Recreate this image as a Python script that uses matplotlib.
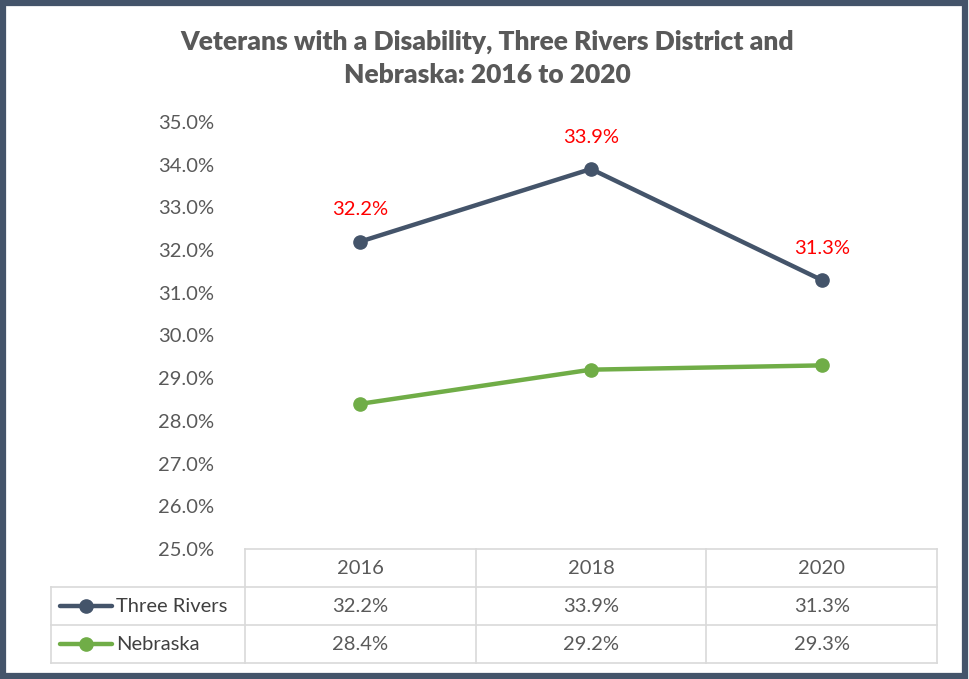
import matplotlib.pyplot as plt
from matplotlib.lines import Line2D
from matplotlib.patches import Rectangle

plt.rcParams['font.family'] = ['Lato', 'DejaVu Sans']

# data
years = ['2016', '2018', '2020']
series_names = ['Three Rivers', 'Nebraska']
three_rivers = [32.2, 33.9, 31.3]
nebraska = [28.4, 29.2, 29.3]
y_ticks = [25, 26, 27, 28, 29, 30, 31, 32, 33, 34, 35]

slate = '#44546A'
green = '#70AD47'
text_grey = '#595959'
grid_grey = '#D9D9D9'
fs = 14.5

fig = plt.figure(figsize=(9.69, 6.79), dpi=100)
W, H = 969, 679

# plot area in pixels
left, right, top, bottom = 245, 937, 122, 549
ax = fig.add_axes([left / W, 1 - bottom / H, (right - left) / W, (bottom - top) / H])

x = range(len(years))
ax.plot(x, three_rivers, color=slate, lw=3.2, marker='o', ms=9.5, solid_capstyle='round')
ax.plot(x, nebraska, color=green, lw=3.2, marker='o', ms=9.5, solid_capstyle='round')

for xi, v in zip(x, three_rivers):
    ax.annotate(f'{v:.1f}%', (xi, v), xytext=(0, 23), textcoords='offset points',
                ha='center', va='center', color='#FF0000', fontsize=fs)

ax.set_xlim(-0.5, len(years) - 0.5)
ax.set_ylim(25, 35)
ax.set_yticks(y_ticks)
ax.set_yticklabels([f'{t:.1f}%' for t in y_ticks])
ax.set_xticks([])
ax.tick_params(axis='y', length=0, pad=22, labelsize=fs, labelcolor=text_grey)
for s in ax.spines.values():
    s.set_visible(False)

# data table under the plot
tab_left = 51
row_h = 38
col_w = (right - left) / len(years)


def fig_xy(px, py):
    return px / W, 1 - py / H


def hline(x0, x1, y):
    fig.add_artist(Line2D([x0 / W, x1 / W], [1 - y / H, 1 - y / H], color=grid_grey, lw=1.2))


def vline(xp, y0, y1):
    fig.add_artist(Line2D([xp / W, xp / W], [1 - y0 / H, 1 - y1 / H], color=grid_grey, lw=1.2))


hline(left, right, bottom)
for i in range(1, 4):
    hline(tab_left, right, bottom + i * row_h)
vline(tab_left, bottom + row_h, bottom + 3 * row_h)
for j in range(len(years) + 1):
    vline(left + j * col_w, bottom, bottom + 3 * row_h)

for j, yr in enumerate(years):
    fig.text(*fig_xy(left + (j + 0.5) * col_w, bottom + 0.5 * row_h), yr,
             ha='center', va='center', fontsize=fs, color=text_grey)

for i, (name, vals, c) in enumerate(zip(series_names, [three_rivers, nebraska], [slate, green])):
    yc = bottom + (i + 1.5) * row_h
    fig.add_artist(Line2D([60 / W, 112 / W], [1 - yc / H] * 2, color=c, lw=3.2,
                          solid_capstyle='round'))
    fig.add_artist(Line2D([86 / W], [1 - yc / H], color=c, marker='o', ms=9.5))
    fig.text(*fig_xy(116, yc), name, ha='left', va='center', fontsize=fs, color='#404040')
    for j, v in enumerate(vals):
        fig.text(*fig_xy(left + (j + 0.5) * col_w, yc), f'{v:.1f}%',
                 ha='center', va='center', fontsize=fs, color=text_grey)

fig.text(0.503, 1 - 58 / H, 'Veterans with a Disability, Three Rivers District and\nNebraska: 2016 to 2020',
         ha='center', va='center', fontsize=19, fontweight='heavy', color=text_grey, linespacing=1.45)

# frame around the whole chart
fig.add_artist(Rectangle((0.003, 0.005), 0.993, 0.99, transform=fig.transFigure,
                         fill=False, edgecolor=slate, lw=4.5))

fig.savefig('out.png', dpi=100)
